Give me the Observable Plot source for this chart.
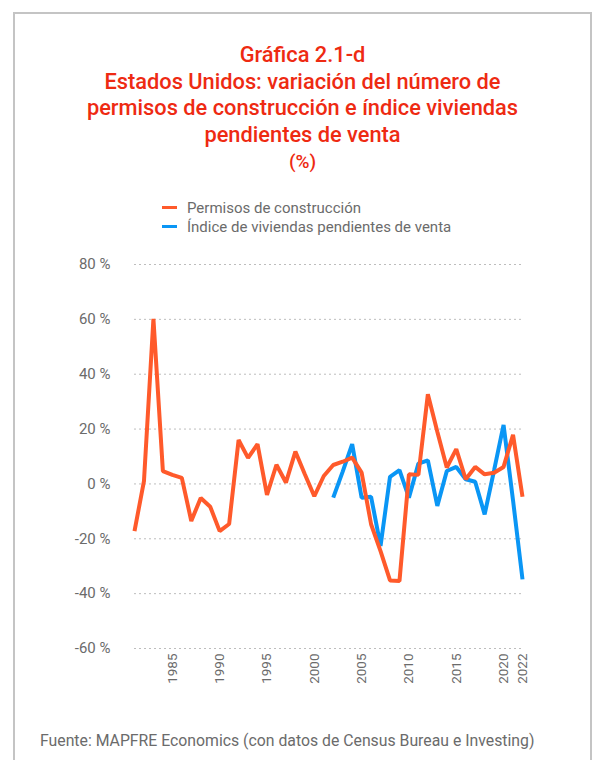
<!DOCTYPE html>
<html>
<head>
<meta charset="utf-8">
<script src="https://cdn.jsdelivr.net/npm/d3@7"></script>
<script src="https://cdn.jsdelivr.net/npm/@observablehq/plot@0.6"></script>
<style>
  html, body { margin: 0; padding: 0; background: #fff; }
  body { width: 594px; height: 760px; position: relative; overflow: hidden; font-family: Roboto, "Noto Sans", sans-serif; }
  #frame { position: absolute; left: 13px; top: 12px; width: 575px; height: 800px; border: 2px solid #c4c4c4; }
  #title { position: absolute; left: 15px; width: 575px; top: 42px; text-align: center; color: #ee2a12; font-size: 21.8px; line-height: 26.5px; font-weight: 500; }
  #title .pct { font-size: 19px; line-height: 24px; }
  #legend { position: absolute; left: 162px; top: 198px; font-size: 15px; color: #6b6b6b; }
  .row { display: flex; align-items: center; height: 19px; }
  .sw { width: 15px; height: 3px; margin-right: 10px; }
  #chart { position: absolute; left: 0; top: 245px; }
  #caption { position: absolute; left: 40px; top: 731px; font-size: 15.8px; color: #6b6b6b; }
</style>
</head>
<body>
<div id="frame"></div>
<div id="title">Gráfica 2.1-d<br>Estados Unidos: variación del número de<br>permisos de construcción e índice viviendas<br>pendientes de venta<br><span class="pct">(%)</span></div>
<div id="legend"></div>
<div id="chart"></div>
<div id="caption">Fuente: MAPFRE Economics (con datos de Census Bureau e Investing)</div>
<script>
const seriesNames = ["Permisos de construcción", "Índice de viviendas pendientes de venta"];
const seriesColors = ["#ff5a2b", "#0a96f5"];

const permisosYears = d3.range(1981, 2023);
const permisosValues = [
  -17.2, 1.0, 60.2, 4.7, 3.3, 2.2, -13.5, -5.1, -8.3, -17.2,
  -14.6, 16.0, 9.5, 14.5, -4.0, 7.0, 0.5, 11.8, 3.5, -4.5,
  2.9, 6.9, 8.1, 9.6, 4.1, -14.7, -24.5, -35.2, -35.4, 3.5,
  3.3, 32.7, 19.0, 6.0, 12.7, 1.7, 6.2, 3.5, 4.1, 6.2,
  17.9, -4.7
];

const indiceYears = d3.range(2002, 2023);
const indiceValues = [
  -5.0, 4.5, 14.5, -5.0, -4.7, -22.6, 2.6, 5.0, -5.0, 7.4,
  8.6, -8.0, 4.7, 6.2, 1.7, 0.8, -11.1, 5.0, 21.5, -6.0,
  -34.8
];

const xTicks = [1985, 1990, 1995, 2000, 2005, 2010, 2015, 2020, 2022];
const yTicks = [-60, -40, -20, 0, 20, 40, 60, 80];

const permisos = permisosYears.map((year, i) => ({year, value: permisosValues[i]}));
const indice = indiceYears.map((year, i) => ({year, value: indiceValues[i]}));

const legend = document.getElementById("legend");
seriesNames.forEach((name, i) => {
  const row = document.createElement("div");
  row.className = "row";
  row.innerHTML = `<div class="sw" style="background:${seriesColors[i]}"></div><span>${name}</span>`;
  legend.appendChild(row);
});

const chart = Plot.plot({
  width: 594,
  height: 453,
  marginLeft: 134,
  marginRight: 72,
  marginTop: 19,
  marginBottom: 50,
  style: {fontFamily: "Roboto, 'Noto Sans', sans-serif", color: "#6b6b6b", background: "transparent"},
  x: {domain: [1981, 2022], label: null},
  y: {domain: [-60, 80], label: null},
  marks: [
    Plot.gridY(yTicks, {stroke: "#bdbdbd", strokeOpacity: 1, strokeDasharray: "2,3", strokeWidth: 1}),
    Plot.axisY(yTicks, {tickSize: 0, tickPadding: 24, fontSize: 15, tickFormat: d => `${d} %`, label: null}),
    Plot.axisX(xTicks, {tickSize: 0, tickPadding: 5, tickRotate: -90, fontSize: 13.5, tickFormat: d => String(d), label: null}),
    Plot.line(indice, {x: "year", y: "value", stroke: seriesColors[1], strokeWidth: 4, strokeLinejoin: "miter", strokeLinecap: "butt"}),
    Plot.line(permisos, {x: "year", y: "value", stroke: seriesColors[0], strokeWidth: 4, strokeLinejoin: "miter", strokeLinecap: "butt"})
  ]
});
document.getElementById("chart").appendChild(chart);
</script>
</body>
</html>
